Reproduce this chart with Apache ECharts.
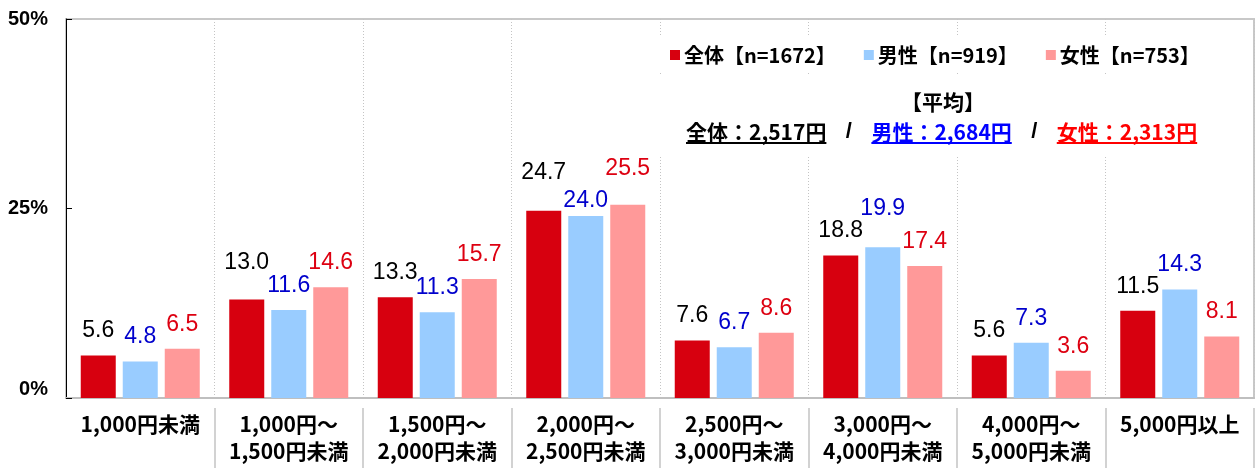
<!DOCTYPE html>
<html>
<head>
<meta charset="utf-8">
<script src="https://cdn.jsdelivr.net/npm/echarts@6/dist/echarts.min.js"></script>
<style>
  html, body { margin: 0; padding: 0; background: #fff; }
  #chart { width: 1256px; height: 468px; }
</style>
</head>
<body>
<div id="chart"></div>
<script>
// 予算（価格帯）別の回答割合（%）
const categories = [
  '1,000円未満',
  '1,000円～\n1,500円未満',
  '1,500円～\n2,000円未満',
  '2,000円～\n2,500円未満',
  '2,500円～\n3,000円未満',
  '3,000円～\n4,000円未満',
  '4,000円～\n5,000円未満',
  '5,000円以上'
];
const seriesNames = ['全体【n=1672】', '男性【n=919】', '女性【n=753】'];
const totalValues  = [5.6, 13.0, 13.3, 24.7, 7.6, 18.8, 5.6, 11.5];
const maleValues   = [4.8, 11.6, 11.3, 24.0, 6.7, 19.9, 7.3, 14.3];
const femaleValues = [6.5, 14.6, 15.7, 25.5, 8.6, 17.4, 3.6, 8.1];
const yTicks = [0, 25, 50];

// 平均金額（円）
const avgTitle = '【平均】';
const avgLabels = ['全体', '男性', '女性'];
const avgValues = [2517, 2684, 2313];

// --- styling ---
const barColors = ['#D7000F', '#99CCFF', '#FF9999'];
const labelColors = ['#000000', '#0000CC', '#DD0011'];
const avgColors = ['#000000', '#0000FF', '#FF0000'];
const CJK = '"Noto Sans CJK JP", "Noto Sans", sans-serif';
const LATIN = '"Liberation Sans", Arial, sans-serif';

// extra lift (px) for a few value labels that sit higher than the rest
const labelLift = [
  { 1: 12, 3: 14 },
  { 3: -9, 5: 14 },
  { 3: 12 }
];

function withLift(values, lift) {
  return values.map((v, i) =>
    lift[i] ? { value: v, label: { offset: [0, -lift[i]] } } : v);
}

const valueSets = [totalValues, maleValues, femaleValues];
const series = valueSets.map((vals, k) => ({
  name: seriesNames[k],
  type: 'bar',
  barWidth: 35,
  barGap: '20%',
  itemStyle: { color: barColors[k] },
  label: {
    show: true,
    position: 'top',
    distance: 13,
    color: labelColors[k],
    fontFamily: LATIN,
    fontSize: 23,
    formatter: p => Number(p.value).toFixed(1)
  },
  data: withLift(vals, labelLift[k])
}));

// text measurement for the averages line
const measureCtx = document.createElement('canvas').getContext('2d');
function textWidth(str, font) {
  measureCtx.font = font;
  return measureCtx.measureText(str).width;
}

const avgFont = 'bold 21px ' + CJK;
const avgTexts = avgLabels.map((name, i) =>
  name + '：' + avgValues[i].toLocaleString('en-US') + '円');
const graphics = [
  // white panels behind legend and averages
  { type: 'rect', z: 3, shape: { x: 640, y: 36, width: 610, height: 36 }, style: { fill: '#fff' } },
  { type: 'rect', z: 3, shape: { x: 640, y: 76, width: 610, height: 80 }, style: { fill: '#fff' } },
  {
    type: 'text', z: 10,
    style: { text: avgTitle, font: avgFont, fill: '#000', x: 943, y: 102, align: 'center', verticalAlign: 'middle' }
  }
];

let cursor = 686;
const pieceGap = 45;
const lineY = 132;
avgTexts.forEach((t, i) => {
  const w = textWidth(t, avgFont);
  graphics.push({
    type: 'text', z: 10,
    style: { text: t, font: avgFont, fill: avgColors[i], x: cursor, y: lineY, align: 'left', verticalAlign: 'middle' }
  });
  graphics.push({
    type: 'rect', z: 10,
    shape: { x: cursor, y: lineY + 10, width: w, height: 2 },
    style: { fill: avgColors[i] }
  });
  cursor += w;
  if (i < avgTexts.length - 1) {
    graphics.push({
      type: 'text', z: 10,
      style: { text: '/', font: 'bold 22px ' + LATIN, fill: '#000', x: cursor + pieceGap / 2, y: lineY, align: 'center', verticalAlign: 'middle' }
    });
    cursor += pieceGap;
  }
});

const chart = echarts.init(document.getElementById('chart'), null, { renderer: 'canvas' });
chart.setOption({
  animation: false,
  backgroundColor: '#ffffff',
  grid: {
    left: 66, right: 2, top: 19, bottom: 70,
    show: true, borderColor: '#c8c8c8', borderWidth: 2, backgroundColor: 'transparent'
  },
  legend: {
    data: seriesNames,
    left: 665, top: 40,
    icon: 'rect', itemWidth: 10, itemHeight: 10, itemGap: 28,
    textStyle: { fontFamily: CJK, fontWeight: 'bold', fontSize: 20, color: '#000', padding: [0, 0, 0, -1] },
    selectedMode: false
  },
  xAxis: [
    {
      type: 'category',
      data: categories,
      axisLine: { lineStyle: { color: '#bfbfbf', width: 2 } },
      axisTick: { show: false },
      splitLine: { show: true, interval: 0, lineStyle: { color: '#c4c4c4', type: [1, 2], width: 1 } },
      axisLabel: {
        interval: 0, margin: 13,
        fontFamily: CJK, fontWeight: 'bold', fontSize: 21, lineHeight: 27, color: '#000'
      }
    },
    {
      // separators between the category labels
      type: 'category',
      data: categories,
      position: 'bottom',
      offset: 10,
      axisLine: { show: false },
      axisLabel: { show: false },
      axisTick: {
        show: true, length: 60,
        interval: (i) => i > 0,
        lineStyle: { color: '#d2d2d2', width: 2 }
      },
      splitLine: { show: false }
    }
  ],
  yAxis: {
    type: 'value',
    min: 0, max: 50, interval: 25,
    axisLine: { show: true, lineStyle: { color: '#000', width: 1 } },
    axisTick: { show: true, inside: true, length: 6, lineStyle: { color: '#000' } },
    splitLine: { show: false },
    axisLabel: {
      margin: 18,
      fontFamily: LATIN, fontWeight: 'bold', fontSize: 20, color: '#000',
      formatter: v => yTicks.includes(v) ? (v === 0 ? '{lift|' + v + '%}' : v + '%') : '',
      rich: { lift: { fontFamily: LATIN, fontWeight: 'bold', fontSize: 20, color: '#000', padding: [0, 0, 18, 0] } }
    }
  },
  graphic: graphics,
  series: series
});
</script>
</body>
</html>
